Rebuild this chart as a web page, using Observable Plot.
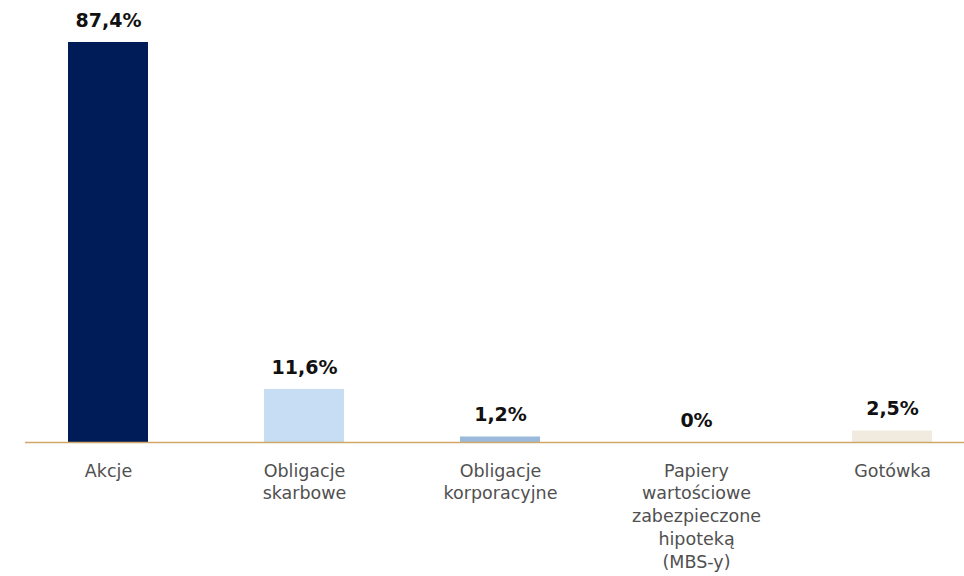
<!DOCTYPE html>
<html>
<head>
<meta charset="utf-8">
<script src="https://cdn.jsdelivr.net/npm/d3@7"></script>
<script src="https://cdn.jsdelivr.net/npm/@observablehq/plot@0.6"></script>
<style>
  html, body { margin: 0; padding: 0; background: #ffffff; }
  #chart svg { display: block; }
</style>
</head>
<body>
<div id="chart"></div>
<script>
const categories = [
  "Akcje",
  "Obligacje\nskarbowe",
  "Obligacje\nkorporacyjne",
  "Papiery\nwartościowe\nzabezpieczone\nhipoteką\n(MBS-y)",
  "Gotówka"
];
const values = [87.4, 11.6, 1.2, 0, 2.5];
const valueLabels = ["87,4%", "11,6%", "1,2%", "0%", "2,5%"];
const colors = ["#001c58", "#c6ddf3", "#9bb9db", "#ffffff", "#f1ebdf"];

const data = categories.map((c, i) => ({cat: c, value: values[i], label: valueLabels[i], color: colors[i]}));

const font = "'DejaVu Sans', 'Noto Sans', sans-serif";

const chart = Plot.plot({
  width: 964,
  height: 576,
  marginTop: 42,
  marginBottom: 134,
  marginLeft: 25,
  marginRight: 0,
  style: {fontFamily: font, background: "#ffffff"},
  x: {domain: categories, paddingInner: 0.592, paddingOuter: 0.191, align: 0.573, axis: null},
  y: {domain: [0, d3.max(values)], axis: null},
  color: {type: "identity"},
  marks: [
    Plot.barY(data, {x: "cat", y: "value", fill: "color"}),
    Plot.ruleY([0], {stroke: "#cfa867", strokeWidth: 1.5}),
    Plot.text(data, {
      x: "cat", y: "value", text: "label", dy: -22,
      fontSize: 19, fontWeight: "bold", fill: "#111111", fontFamily: font
    }),
    Plot.text(data, {
      x: "cat", y: 0, text: "cat", dy: 18, lineAnchor: "top",
      lineHeight: 1.3, fontSize: 17.5, fill: "#505050", fontFamily: font
    })
  ]
});
document.getElementById("chart").appendChild(chart);
</script>
</body>
</html>
